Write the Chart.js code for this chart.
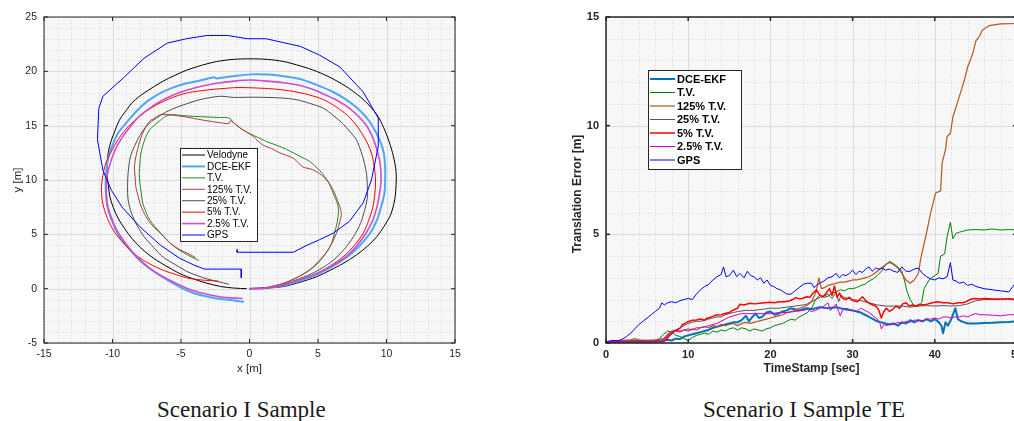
<!DOCTYPE html>
<html>
<head>
<meta charset="utf-8">
<script src="https://cdn.jsdelivr.net/npm/chart.js@4/dist/chart.umd.min.js"></script>
<style>
  html, body { margin: 0; padding: 0; background: #fff; overflow: hidden; }
  #page { position: relative; width: 1014px; height: 421px; overflow: hidden; }
  canvas { position: absolute; top: 0; }
  #traj { left: 0; }
  #err { left: 560px; }
  .cap { position: absolute; top: 397px; font-family: "Liberation Serif", serif; font-size: 23px; line-height: 26px; color: #1a1a1a; white-space: nowrap; }
</style>
</head>
<body>
<div id="page">
  <canvas id="traj" width="470" height="380"></canvas>
  <canvas id="err" width="470" height="380"></canvas>
  <div class="cap" id="capL" style="left:157px">Scenario I Sample</div>
  <div class="cap" id="capR" style="left:703px">Scenario I Sample TE</div>
</div>
<script>
// ---- Trajectories (x [m], y [m]) ----
const velodyne = [[0,0],[1.2,0.05],[2.5,0.2],[3.7,0.6],[4.9,1.1],[5.9,1.7],[6.8,2.3],[7.8,3.1],[8.6,3.9],[9.3,4.8],[9.8,5.7],[10.3,6.8],[10.6,8.2],[10.7,9.6],[10.7,10.8],[10.5,12.2],[10.2,13.5],[9.8,14.8],[9.3,16.0],[8.4,17.3],[7.3,18.4],[6.1,19.3],[4.9,20.0],[3.7,20.5],[2.5,20.9],[1.3,21.1],[0.1,21.15],[-1.2,21.1],[-2.4,20.9],[-3.5,20.55],[-4.6,20.1],[-5.5,19.6],[-6.3,19.1],[-7.7,18.0],[-8.5,17.2],[-9.0,16.4],[-9.5,15.5],[-9.8,14.6],[-10.1,13.6],[-10.3,12.6],[-10.4,11.5],[-10.4,10.5],[-10.3,9.5],[-10.2,8.5],[-9.95,7.5],[-9.6,6.5],[-9.1,5.5],[-8.5,4.5],[-7.8,3.6],[-7.0,2.8],[-6.1,2.1],[-5.1,1.4],[-4.1,0.9],[-3.1,0.5],[-2.1,0.2],[-1.1,0.05],[-0.2,0]];
const dceEkf = [[0,0],[1.2,0.05],[2.5,0.3],[3.7,0.75],[4.9,1.3],[6.0,2.0],[7.1,2.9],[8.0,3.9],[8.8,5.1],[9.3,6.3],[9.6,7.5],[9.85,8.8],[9.9,10.0],[9.9,11.2],[9.8,12.5],[9.5,13.7],[9.0,14.9],[8.5,15.8],[7.8,16.7],[7.0,17.45],[6.1,18.1],[4.9,18.75],[3.7,19.3],[2.5,19.55],[1.3,19.7],[0.1,19.72],[-1.2,19.55],[-2.4,19.35],[-2.6,19.45],[-3.6,19.15],[-4.6,18.9],[-5.6,18.5],[-6.5,18.0],[-7.4,17.3],[-8.2,16.4],[-8.9,15.4],[-9.6,14.3],[-10.0,13.2],[-10.3,12.1],[-10.45,10.9],[-10.5,9.7],[-10.45,8.4],[-10.3,7.2],[-9.95,6.0],[-9.5,4.8],[-8.8,3.7],[-8.0,2.6],[-7.0,1.6],[-6.0,0.8],[-5.0,0.1],[-4.1,-0.4],[-3.2,-0.7],[-2.4,-0.9],[-1.4,-1.05],[-0.4,-1.2]];
const tvPath = [[0,0],[1.2,0.1],[2.5,0.5],[3.5,1.05],[4.4,1.7],[5.1,2.5],[5.6,3.3],[6.0,4.2],[6.2,5.1],[6.4,6.1],[6.5,7.2],[6.4,7.9],[6.2,8.5],[6.0,9.1],[5.8,9.7],[5.5,10.3],[5.1,10.9],[4.4,11.7],[3.8,12.1],[3.2,12.5],[2.2,13.1],[1.3,13.5],[0.9,13.75],[0.3,14.1],[-0.2,14.4],[-0.7,14.8],[-1.1,15.2],[-1.5,15.7],[-2.2,15.75],[-3.1,15.8],[-4.0,15.85],[-4.6,15.9],[-5.2,15.97],[-5.8,16.0],[-6.2,15.8],[-6.5,15.5],[-6.9,15.1],[-7.3,14.6],[-7.6,13.9],[-7.8,13.1],[-7.95,12.3],[-8.0,11.5],[-8.05,10.6],[-8.0,9.7],[-7.9,8.8],[-7.8,7.9],[-7.6,7.2],[-7.4,6.6],[-7.1,6.0],[-6.7,5.4],[-6.25,4.8],[-5.8,4.2],[-5.3,3.7],[-4.8,3.3],[-4.2,2.9],[-3.7,2.6]];
const tv125Path = [[0,0],[1.2,0.1],[2.5,0.5],[3.5,1.05],[4.4,1.75],[5.1,2.6],[5.7,3.5],[6.1,4.4],[6.4,5.3],[6.6,6.2],[6.7,6.9],[6.55,7.7],[6.3,8.5],[6.1,9.1],[5.7,9.9],[5.1,10.6],[4.5,11.0],[3.9,11.2],[3.2,12.0],[2.2,12.5],[1.6,12.9],[1.0,13.2],[0.6,13.6],[0.3,14.0],[-0.2,14.4],[-0.7,14.8],[-1.1,15.2],[-1.4,15.45],[-1.5,15.2],[-2.3,15.3],[-3.1,15.45],[-4.0,15.65],[-4.6,15.8],[-5.2,15.9],[-5.8,16.0],[-6.5,16.0],[-6.9,15.7],[-7.3,15.4],[-7.6,14.8],[-7.8,14.3],[-8.0,13.6],[-8.15,12.9],[-8.3,12.1],[-8.4,11.2],[-8.35,10.3],[-8.3,9.4],[-8.15,8.6],[-8.0,7.9],[-7.75,7.1],[-7.4,6.3],[-7.0,5.7],[-6.5,5.1],[-6.05,4.5],[-5.6,4.0],[-5.1,3.6],[-4.6,3.3],[-4.0,2.9],[-3.95,2.75]];
const tv25Path = [[0,0],[1.2,0.05],[2.5,0.4],[3.5,0.85],[4.4,1.3],[5.3,1.9],[6.1,2.6],[6.9,3.6],[7.6,4.8],[8.1,6.0],[8.4,7.2],[8.6,8.3],[8.6,9.4],[8.55,10.5],[8.4,11.5],[8.15,12.6],[7.8,13.7],[7.3,14.5],[6.8,15.2],[6.1,15.95],[5.4,16.6],[4.4,17.05],[3.4,17.4],[2.3,17.55],[1.3,17.6],[0.1,17.62],[-1.1,17.6],[-2.2,17.7],[-3.6,17.4],[-4.5,17.05],[-5.3,16.7],[-6.1,16.25],[-6.8,15.7],[-7.5,15.0],[-8.0,14.1],[-8.4,13.1],[-8.7,12.1],[-8.85,10.8],[-8.9,9.4],[-8.85,8.1],[-8.6,6.9],[-8.2,5.8],[-7.7,4.8],[-7.0,3.8],[-6.3,2.9],[-5.4,2.2],[-4.6,1.6],[-3.8,1.2],[-3.1,0.9],[-2.3,0.65],[-1.5,0.4]];
const tv5Path = [[0,0],[1.2,0.05],[2.5,0.35],[3.7,0.85],[4.9,1.4],[5.9,2.1],[6.8,2.9],[7.6,3.9],[8.3,5.1],[8.7,6.3],[9.0,7.5],[9.15,8.7],[9.2,10.0],[9.1,11.3],[8.9,12.5],[8.6,13.4],[8.2,14.3],[7.7,15.2],[7.1,16.0],[6.3,16.75],[5.4,17.4],[4.3,17.85],[3.2,18.15],[2.0,18.35],[0.8,18.45],[-0.3,18.5],[-1.1,18.5],[-1.6,18.45],[-2.6,18.35],[-3.6,18.2],[-4.6,18.0],[-5.6,17.6],[-6.5,17.1],[-7.4,16.45],[-8.2,15.7],[-9.0,14.7],[-9.6,13.7],[-10.1,12.6],[-10.5,11.5],[-10.7,10.4],[-10.8,9.4],[-10.75,8.1],[-10.5,6.9],[-10.2,6.0],[-9.8,5.1],[-9.2,4.2],[-8.5,3.3],[-7.6,2.5],[-6.5,1.8],[-5.5,1.35],[-4.6,1.0],[-3.5,0.8],[-2.3,0.7]];
const tv2p5Path = [[0,0],[1.2,0.05],[2.5,0.4],[3.7,0.85],[4.9,1.4],[6.0,2.1],[7.0,2.9],[7.8,3.9],[8.5,5.1],[9.0,6.3],[9.3,7.5],[9.5,8.8],[9.6,10.0],[9.55,11.4],[9.3,12.8],[9.0,13.9],[8.6,14.9],[8.0,15.8],[7.3,16.6],[6.5,17.25],[5.6,17.8],[4.7,18.3],[3.7,18.7],[2.5,18.95],[1.3,19.1],[0.1,19.2],[-1.1,19.1],[-2.4,18.9],[-3.6,18.6],[-4.6,18.25],[-5.6,17.8],[-6.5,17.25],[-7.3,16.6],[-8.1,15.8],[-8.7,14.9],[-9.3,13.9],[-9.8,12.8],[-10.15,11.6],[-10.4,10.3],[-10.45,9.1],[-10.4,7.9],[-10.1,6.6],[-9.7,5.4],[-9.0,4.1],[-8.2,2.9],[-7.3,1.9],[-6.3,1.1],[-5.3,0.45],[-4.3,-0.1],[-3.3,-0.45],[-2.4,-0.7],[-1.4,-0.85],[-0.5,-0.9]];
const gpsPath = [[-0.9,3.6],[-0.9,3.35],[3.2,3.35],[4.2,4.0],[5.1,4.5],[6.1,5.1],[7.3,6.2],[8.3,7.9],[8.9,10.0],[9.4,13.1],[9.4,15.7],[8.3,18.1],[6.6,20.4],[5.1,21.5],[3.7,22.3],[1.2,23.0],[-0.15,23.0],[-1.6,23.3],[-3.1,23.3],[-4.6,23.0],[-6.0,22.6],[-7.7,21.2],[-9.2,19.4],[-10.7,17.7],[-11.0,16.6],[-11.1,13.7],[-10.7,10.9],[-10.1,9.1],[-9.3,7.5],[-8.0,5.7],[-6.5,4.0],[-5.1,2.8],[-4.1,2.2],[-3.3,1.8],[-0.6,1.8],[-0.6,1.0]];

// ---- Translation error (time [sec], error [m]) ----
const errDceEkf = [[0,0.05],[2,0.05],[4,0.08],[6,0.08],[7,0.1],[7.5,0.15],[8,0.12],[8.5,0.2],[9,0.18],[9.5,0.3],[10,0.35],[10.5,0.4],[11,0.45],[11.5,0.5],[12,0.55],[12.5,0.6],[13,0.7],[13.5,0.75],[14,0.8],[14.5,0.85],[15,0.9],[15.5,0.95],[16,0.95],[16.5,1.05],[17,1.25],[17.4,1.0],[17.8,1.2],[18.2,1.35],[18.6,1.15],[19,1.2],[19.5,1.4],[20,1.45],[20.5,1.3],[21,1.35],[21.5,1.45],[22,1.5],[22.5,1.6],[23,1.55],[23.5,1.5],[24,1.55],[24.5,1.6],[25,1.55],[25.5,1.6],[26,1.65],[27,1.6],[28,1.65],[29,1.55],[30,1.5],[30.5,1.45],[31,1.4],[31.5,1.3],[32,1.2],[32.5,1.1],[33,1.0],[33.5,0.95],[34,0.9],[34.5,0.85],[35,0.9],[35.5,0.8],[36,0.95],[36.5,0.9],[37,1.05],[37.5,0.95],[38,1.05],[38.5,1.0],[39,1.1],[39.5,1.0],[40,1.1],[40.5,0.95],[40.8,0.8],[41,0.45],[41.3,0.95],[41.6,0.8],[42,1.1],[42.5,1.6],[42.8,1.1],[43.2,1.0],[43.6,0.95],[44,0.9],[45,0.9],[46,0.92],[47,0.93],[48,0.95],[49,0.97],[50,1.0]];
const errTv = [[0,0.05],[1,0.08],[2,0.1],[3,0.12],[4,0.12],[5,0.1],[6,0.12],[6.5,0.2],[7,0.4],[7.5,0.55],[8,0.5],[8.5,0.35],[9,0.3],[9.5,0.2],[10,0.12],[10.5,0.25],[11,0.35],[11.5,0.4],[12,0.45],[12.5,0.4],[13,0.55],[13.5,0.5],[14,0.6],[14.5,0.55],[15,0.65],[15.5,0.7],[16,0.6],[16.5,0.7],[17,0.65],[17.5,0.55],[18,0.65],[18.5,0.6],[19,0.55],[19.5,0.65],[20,0.7],[20.5,0.8],[21,0.85],[21.5,0.9],[22,1.0],[22.5,1.1],[23,1.05],[23.5,1.2],[24,1.3],[24.5,1.4],[25,1.6],[25.5,2.0],[26,2.2],[26.5,2.1],[27,2.15],[27.5,2.3],[28,2.35],[28.5,2.45],[29,2.4],[29.5,2.5],[30,2.5],[30.5,2.55],[31,2.65],[31.5,2.7],[32,2.85],[32.5,2.95],[33,3.1],[33.5,3.3],[34,3.6],[34.5,3.75],[35,3.65],[35.5,3.5],[36,3.3],[36.3,2.9],[36.6,2.4],[37,2.0],[37.5,1.7],[38,1.7],[38.4,1.85],[38.7,2.5],[39,2.7],[39.3,2.9],[39.6,3.0],[40,3.1],[40.4,3.2],[40.7,4.0],[41.2,4.1],[41.5,4.9],[41.9,5.55],[42.2,4.8],[42.6,5.05],[43,5.1],[43.5,5.15],[44,5.2],[45,5.22],[46,5.2],[47,5.25],[48,5.2],[49,5.22],[50,5.2]];
const errTv125 = [[0,0.05],[1,0.1],[2,0.12],[3,0.15],[3.5,0.2],[4,0.15],[5,0.12],[6,0.15],[7,0.2],[7.5,0.4],[8,0.55],[8.5,0.6],[9,0.55],[9.5,0.6],[10,0.55],[10.5,0.65],[11,0.6],[11.5,0.7],[12,0.75],[12.5,0.7],[13,0.8],[13.5,0.75],[14,0.85],[14.5,0.8],[15,0.85],[15.5,0.9],[16,0.8],[16.5,0.9],[17,0.95],[17.5,0.9],[18,0.95],[18.5,1.0],[19,1.05],[19.5,1.1],[20,1.15],[20.5,1.2],[21,1.25],[21.5,1.3],[22,1.4],[22.5,1.45],[23,1.5],[23.5,1.6],[24,1.65],[24.5,1.75],[25,1.9],[25.5,2.3],[25.9,3.0],[26.2,2.5],[26.6,2.55],[27,2.65],[27.5,2.7],[28,2.75],[28.5,2.8],[29,2.8],[29.5,2.85],[30,2.9],[30.5,2.9],[31,2.95],[31.5,3.0],[32,3.05],[32.5,3.15],[33,3.3],[33.5,3.45],[34,3.6],[34.5,3.7],[35,3.6],[35.5,3.45],[36,3.2],[36.5,2.9],[37,2.75],[37.5,2.9],[38,3.2],[38.3,3.9],[38.9,4.9],[39.5,6.0],[40.1,6.9],[40.7,7.0],[40.9,8.3],[41.3,8.9],[41.5,9.5],[41.9,9.65],[42.2,10.4],[42.7,11.0],[43.2,11.6],[43.6,12.1],[44.0,12.7],[44.6,13.3],[45.0,13.9],[45.4,14.1],[45.8,14.4],[46.6,14.6],[48,14.68],[50,14.7]];
const errTv25 = [[0,0.05],[2,0.08],[4,0.1],[6,0.1],[7,0.15],[7.5,0.35],[8,0.5],[8.5,0.6],[9,0.7],[9.5,0.8],[10,0.9],[10.5,0.95],[11,1.0],[11.5,1.0],[12,1.05],[12.5,1.1],[13,1.15],[13.5,1.2],[14,1.2],[14.5,1.3],[15,1.35],[15.5,1.4],[16,1.45],[17,1.5],[18,1.5],[19,1.55],[20,1.6],[21,1.6],[22,1.65],[23,1.7],[24,1.75],[24.5,1.8],[25,1.9],[25.5,2.0],[26,2.1],[26.5,2.15],[27,2.25],[27.5,2.05],[28,2.35],[28.3,1.9],[28.6,2.2],[29,2.1],[30,2.0],[31,1.95],[32,1.85],[33,1.75],[34,1.7],[35,1.7],[36,1.7],[37,1.65],[38,1.7],[39,1.72],[40,1.7],[41,1.72],[42,1.7],[43,1.72],[44,1.8],[45,1.95],[46,2.0],[47,2.0],[48,2.0],[49,2.05],[50,2.0]];
const errTv5 = [[0,0.05],[2,0.05],[4,0.05],[6,0.05],[7,0.06],[7.4,0.2],[7.8,0.37],[8.2,0.5],[8.6,0.6],[9,0.67],[9.3,0.85],[9.6,0.9],[10,0.98],[10.5,1.05],[11,1.06],[11.5,1.1],[12,1.05],[12.2,1.13],[12.8,1.2],[13.4,1.29],[14,1.3],[14.6,1.37],[15,1.4],[15.5,1.52],[16,1.6],[16.3,1.78],[16.8,1.75],[17.5,1.83],[18.1,1.8],[18.7,1.83],[19.3,1.85],[19.9,1.87],[20.5,1.85],[21.1,1.9],[21.7,1.9],[22.3,1.93],[22.7,2.0],[23.1,2.09],[23.5,2.03],[23.9,2.05],[24.4,2.13],[24.8,2.1],[25.2,2.3],[25.6,2.44],[26,2.2],[26.4,2.13],[26.8,2.3],[27.2,2.5],[27.5,2.2],[27.8,2.62],[28.1,2.1],[28.4,2.3],[28.8,2.05],[29.2,2.0],[29.6,2.1],[30,1.95],[30.6,1.9],[31.2,2.13],[31.6,1.95],[32,1.83],[32.5,1.75],[32.9,1.67],[33.2,1.5],[33.5,1.15],[33.8,1.45],[34.1,1.6],[34.5,1.45],[34.9,1.55],[35.3,1.7],[35.7,1.6],[36.1,1.8],[36.5,1.85],[36.9,1.7],[37.3,1.75],[37.7,1.7],[38.1,1.78],[38.6,1.75],[39.2,1.8],[39.7,1.85],[40.3,1.9],[41,1.85],[41.6,1.85],[42.2,1.8],[42.8,1.85],[43.4,1.85],[43.8,1.9],[44.3,2.0],[44.8,2.05],[45.5,2.03],[46.2,2.05],[47,2.02],[48,2.03],[49,2.02],[50,1.98]];
const errTv2p5 = [[0,0.05],[3,0.05],[6,0.06],[7,0.08],[7.5,0.3],[8,0.5],[8.5,0.55],[9,0.5],[9.5,0.6],[10,0.65],[10.5,0.6],[11,0.7],[11.5,0.7],[12,0.75],[12.5,0.8],[13,0.85],[13.5,0.9],[14,1.0],[14.5,1.1],[15,1.2],[15.5,1.25],[16,1.3],[16.5,1.35],[17,1.35],[18,1.35],[19,1.35],[20,1.35],[21,1.4],[22,1.4],[23,1.45],[24,1.5],[24.5,1.55],[25,1.45],[25.5,1.5],[26,1.6],[26.5,1.7],[27,1.85],[27.3,1.5],[27.6,1.6],[28,1.8],[28.3,1.45],[28.5,1.25],[28.8,1.55],[29.2,1.6],[29.6,1.55],[30,1.5],[30.5,1.45],[31,1.6],[31.5,1.5],[32,1.4],[32.5,1.25],[33,1.1],[33.3,0.95],[33.5,0.65],[33.8,0.85],[34.2,0.8],[34.6,0.9],[35,0.85],[35.5,0.95],[36,0.9],[36.5,1.0],[37,0.95],[37.5,1.05],[38,1.05],[38.5,1.0],[39,1.1],[39.5,1.1],[40,1.15],[40.5,1.1],[41,1.2],[41.5,1.2],[42,1.15],[42.5,1.2],[43,1.2],[43.5,1.25],[44,1.2],[44.5,1.3],[45,1.35],[45.5,1.3],[46,1.3],[47,1.28],[48,1.25],[49,1.3],[50,1.3]];
const errGps = [[0,0.05],[0.5,0.1],[1,0.12],[1.5,0.1],[2,0.18],[2.5,0.3],[3,0.45],[3.5,0.65],[4,0.85],[4.5,1.0],[5,1.15],[5.5,1.3],[6,1.45],[6.5,1.6],[6.8,1.85],[7.1,1.75],[7.5,1.85],[8,1.9],[8.5,1.85],[9,1.95],[9.5,2.0],[10,2.05],[10.5,2.0],[11,2.25],[11.5,2.45],[12,2.6],[12.5,2.7],[13,2.9],[13.5,3.05],[14,3.15],[14.3,3.5],[14.6,3.05],[15,3.1],[15.5,3.35],[15.9,3.05],[16.3,3.2],[16.8,3.0],[17.2,3.3],[17.6,3.1],[18,3.05],[18.4,2.9],[18.8,3.0],[19.2,2.75],[19.6,2.9],[20,2.65],[20.4,2.6],[20.8,2.5],[21.2,2.45],[21.6,2.35],[22,2.25],[22.5,2.25],[23,2.4],[23.5,2.55],[24,2.7],[24.5,2.75],[25,2.75],[25.3,2.55],[25.6,2.65],[26,2.75],[26.5,2.85],[27,3.0],[27.5,3.05],[28,3.2],[28.4,3.0],[28.8,3.15],[29.2,3.1],[29.6,3.2],[30,3.35],[30.4,3.15],[30.8,3.3],[31.2,3.25],[31.6,3.4],[32,3.5],[32.4,3.3],[32.8,3.45],[33.2,3.4],[33.6,3.45],[34,3.35],[34.5,3.4],[35,3.3],[35.5,3.25],[36,3.5],[36.5,3.3],[37,3.3],[37.5,3.4],[38,3.45],[38.5,3.2],[39,3.05],[39.5,2.95],[40,2.9],[40.5,3.0],[41,2.95],[41.5,3.05],[41.9,3.7],[42.2,2.9],[42.6,2.85],[43,2.75],[43.5,2.8],[44,2.65],[44.5,2.7],[45,2.6],[45.5,2.55],[46,2.5],[47,2.45],[48,2.4],[49,2.35],[49.5,2.6],[50,2.85]];

const trajLabels = ['Velodyne', 'DCE-EKF', 'T.V.', '125% T.V.', '25% T.V.', '5% T.V.', '2.5% T.V.', 'GPS'];
const errLabels = ['DCE-EKF', 'T.V.', '125% T.V.', '25% T.V.', '5% T.V.', '2.5% T.V.', 'GPS'];

const FONT = '"Liberation Sans", Arial, Helvetica, sans-serif';

function toPts(pairs) {
    return pairs.map(p => ({ x: p[0], y: p[1] }));
}

function makeSet(label, pairs, color, width, tension, n, i) {
    return {
        label: label,
        data: toPts(pairs),
        showLine: true,
        fill: false,
        borderColor: color,
        backgroundColor: color,
        borderWidth: width,
        pointRadius: 0,
        tension: tension,
        borderJoinStyle: 'round',
        order: n - i // last one on top, like matlab
    };
}

function strokeLine(ctx, x1, y1, x2, y2) {
    ctx.beginPath();
    ctx.moveTo(x1, y1);
    ctx.lineTo(x2, y2);
    ctx.stroke();
}

// grid lines through the scale's own pixel mapping
function gridLines(ctx, a, scale, step, major, vertical, minorPass) {
    const n = Math.round((scale.max - scale.min) / step);
    for (let i = 0; i <= n; i++) {
        const v = scale.min + i * step;
        const isMajor = Math.abs(v / major - Math.round(v / major)) < 1e-6;
        if (minorPass === isMajor) continue;
        const p = Math.round(scale.getPixelForValue(v)) + 0.5;
        if (vertical) strokeLine(ctx, p, a.top, p, a.bottom);
        else strokeLine(ctx, a.left, p, a.right, p);
    }
}

// matlab look: grey plot box, dotted minor grid, inner ticks, boxed legend
const matlabPlot = {
    id: 'matlabPlot',
    beforeDatasetsDraw(chart, args, o) {
        const { ctx, chartArea: a, scales } = chart;
        ctx.save();
        ctx.fillStyle = '#f7f7f7';
        ctx.fillRect(a.left, a.top, a.right - a.left, a.bottom - a.top);
        ctx.lineWidth = 1;
        ctx.strokeStyle = '#d6d6d6';
        ctx.setLineDash([1, 2]);
        gridLines(ctx, a, scales.x, o.minorX, o.majorX, true, true);
        gridLines(ctx, a, scales.y, o.minorY, o.majorY, false, true);
        ctx.setLineDash([]);
        ctx.strokeStyle = '#dcdcdc';
        gridLines(ctx, a, scales.x, o.majorX, o.majorX, true, false);
        gridLines(ctx, a, scales.y, o.majorY, o.majorY, false, false);
        ctx.restore();
    },
    afterDatasetsDraw(chart, args, o) {
        const { ctx, chartArea: a, scales } = chart;
        ctx.save();
        ctx.strokeStyle = '#262626';
        ctx.lineWidth = o.boxWidth;
        ctx.strokeRect(a.left, a.top, a.right - a.left, a.bottom - a.top);
        scales.x.ticks.forEach(t => {
            const p = scales.x.getPixelForValue(t.value);
            strokeLine(ctx, p, a.bottom, p, a.bottom - 4);
            strokeLine(ctx, p, a.top, p, a.top + 4);
        });
        scales.y.ticks.forEach(t => {
            const p = scales.y.getPixelForValue(t.value);
            strokeLine(ctx, a.left, p, a.left + 4, p);
            strokeLine(ctx, a.right, p, a.right - 4, p);
        });

        // y label drawn here when it sits off the axis centre (matlab placement)
        if (o.yTitle) {
            ctx.save();
            ctx.translate(o.yTitle.x, o.yTitle.y);
            ctx.rotate(-Math.PI / 2);
            ctx.font = o.yTitle.font;
            ctx.fillStyle = '#262626';
            ctx.textAlign = 'center';
            ctx.textBaseline = 'middle';
            ctx.fillText(o.yTitle.text, 0, 0);
            ctx.restore();
        }

        const L = o.legend;
        ctx.fillStyle = '#ffffff';
        ctx.fillRect(L.x, L.y, L.w, L.h);
        ctx.lineWidth = 1;
        ctx.strokeStyle = '#262626';
        ctx.strokeRect(L.x + 0.5, L.y + 0.5, L.w, L.h);
        ctx.font = L.font;
        ctx.textBaseline = 'middle';
        chart.data.datasets.forEach((ds, i) => {
            const yy = L.y + L.first + i * L.row;
            ctx.strokeStyle = ds.borderColor;
            ctx.lineWidth = ds.borderWidth;
            strokeLine(ctx, L.x + 2, yy, L.x + 2 + L.lineLen, yy);
            ctx.fillStyle = '#000';
            ctx.fillText(ds.label, L.x + 4 + L.lineLen, yy + 0.5);
        });
        ctx.restore();
    }
};

// ---- left: trajectories ----
const trajSeries = [velodyne, dceEkf, tvPath, tv125Path, tv25Path, tv5Path, tv2p5Path, gpsPath];
const trajColors = ['#000000', '#4da6ff', '#228b22', '#b03a48', '#4d4d4d', '#ff0000', '#cc4fcc', '#0000ff'];
const trajWidths = [1, 2, 1, 1, 1, 1, 1.6, 1];

new Chart(document.getElementById('traj'), {
    type: 'scatter',
    data: {
        datasets: trajSeries.map((s, i) => makeSet(trajLabels[i], s, trajColors[i], trajWidths[i],
            i === 7 ? 0 : 0.3, trajSeries.length, i))
    },
    options: {
        responsive: false,
        animation: false,
        events: [],
        layout: { padding: { left: 0, right: 15, top: 17, bottom: 0 } },
        plugins: {
            legend: { display: false },
            tooltip: { enabled: false },
            matlabPlot: {
                minorX: 1, majorX: 5, minorY: 1, majorY: 5, boxWidth: 1,
                legend: { x: 180, y: 148, w: 77, h: 93, first: 7, row: 11.43, lineLen: 23, font: '10px ' + FONT }
            }
        },
        scales: {
            x: {
                type: 'linear', min: -15, max: 15,
                ticks: { stepSize: 5, color: '#262626', padding: 5, font: { family: FONT, size: 10.5 } },
                grid: { display: false, drawTicks: false },
                border: { display: false },
                title: { display: true, text: 'x [m]', color: '#262626', font: { family: FONT, size: 11.5 }, padding: { top: 0, bottom: 4 } },
                afterFit: s => { s.height = 37; }
            },
            y: {
                type: 'linear', min: -5, max: 25,
                ticks: { stepSize: 5, color: '#262626', padding: 7, font: { family: FONT, size: 10.5 } },
                grid: { display: false, drawTicks: false },
                border: { display: false },
                title: { display: true, text: 'y [m]', color: '#262626', font: { family: FONT, size: 11.5 }, padding: { top: 11, bottom: 0 } },
                afterFit: s => { s.width = 44; }
            }
        }
    },
    plugins: [matlabPlot]
});

// ---- right: translation error ----
const errSeries = [errDceEkf, errTv, errTv125, errTv25, errTv5, errTv2p5, errGps];
const errColors = ['#0072bd', '#008000', '#b8551e', '#555555', '#ff0000', '#cc00cc', '#0000ff'];
const errWidths = [2, 1, 1.2, 1, 1.5, 1, 1];

new Chart(document.getElementById('err'), {
    type: 'scatter',
    data: {
        datasets: errSeries.map((s, i) => makeSet(errLabels[i], s, errColors[i], errWidths[i], 0, errSeries.length, i))
    },
    options: {
        responsive: false,
        animation: false,
        events: [],
        layout: { padding: { left: 0, right: 13, top: 17, bottom: 0 } },
        plugins: {
            legend: { display: false },
            tooltip: { enabled: false },
            matlabPlot: {
                minorX: 2, majorX: 10, minorY: 1, majorY: 5, boxWidth: 1.5,
                legend: { x: 88, y: 70, w: 93, h: 99, first: 9, row: 13.5, lineLen: 25, font: 'bold 11px ' + FONT },
                yTitle: { text: 'Translation Error [m]', x: 18, y: 194, font: 'bold 12px ' + FONT }
            }
        },
        scales: {
            x: {
                type: 'linear', min: 0, max: 50,
                ticks: { stepSize: 10, color: '#262626', padding: 5, font: { family: FONT, size: 11, weight: 'bold' } },
                grid: { display: false, drawTicks: false },
                border: { display: false },
                title: { display: true, text: 'TimeStamp [sec]', color: '#262626', font: { family: FONT, size: 12, weight: 'bold' }, padding: { top: 0, bottom: 4 } },
                afterFit: s => { s.height = 37; }
            },
            y: {
                type: 'linear', min: 0, max: 15,
                ticks: { stepSize: 5, color: '#262626', padding: 7, font: { family: FONT, size: 11, weight: 'bold' } },
                grid: { display: false, drawTicks: false },
                border: { display: false },
                afterFit: s => { s.width = 46; }
            }
        }
    },
    plugins: [matlabPlot]
});
</script>
</body>
</html>
